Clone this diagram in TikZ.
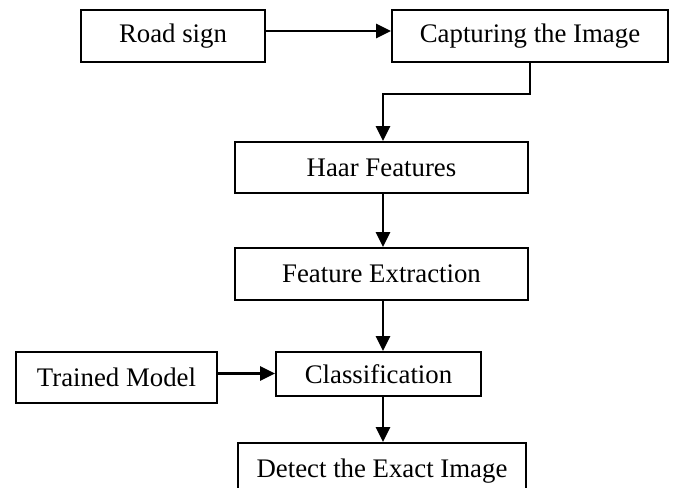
\documentclass[tikz,border=0pt]{standalone}
\usepackage{fontspec}
\setmainfont{Liberation Serif}
\usepackage{tikz}
\usetikzlibrary{arrows.meta}

\begin{document}
\begin{tikzpicture}[x=0.5pt, y=-0.5pt,
    box/.style={rectangle, draw, line width=0.9pt, inner sep=0pt, font=\fontsize{13.4}{16}\selectfont},
    arr/.style={line width=1.25pt, -{Triangle[length=7.5pt, width=7pt]}}]
    \clip (0, 0) rectangle (677, 488);

    \node[box, minimum width=92pt, minimum height=26pt] (road) at (173, 36) {Road sign};
    \node[box, minimum width=138pt, minimum height=26pt] (capture) at (530, 36) {Capturing the Image};
    \node[box, minimum width=146.5pt, minimum height=25.5pt] (haar) at (381.5, 167.5) {Haar Features};
    \node[box, minimum width=146.5pt, minimum height=26pt] (feat) at (381.5, 274) {Feature Extraction};
    \node[box, minimum width=100.5pt, minimum height=25.5pt] (trained) at (116.5, 377.5) {Trained Model};
    \node[box, minimum width=102.5pt, minimum height=22pt] (classif) at (378.5, 374) {Classification};
    \node[box, minimum width=144pt, minimum height=28pt] (detect) at (382, 471) {Detect the Exact Image};

    \coordinate (bend) at (383, 94);

    \draw[arr] ([yshift=2.5pt]road.east) -- ([yshift=2.5pt]capture.west);
    \draw[arr] (capture.south) |- (bend) -- (bend |- haar.north);
    \draw[arr] (haar.south -| bend) -- (feat.north -| bend);
    \draw[arr] (feat.south -| bend) -- (classif.north -| bend);
    \draw[arr] ([yshift=2pt]trained.east) -- ([yshift=2pt]classif.west |- trained.east);
    \draw[arr] (classif.south -| bend) -- (detect.north -| bend);
\end{tikzpicture}
\end{document}
